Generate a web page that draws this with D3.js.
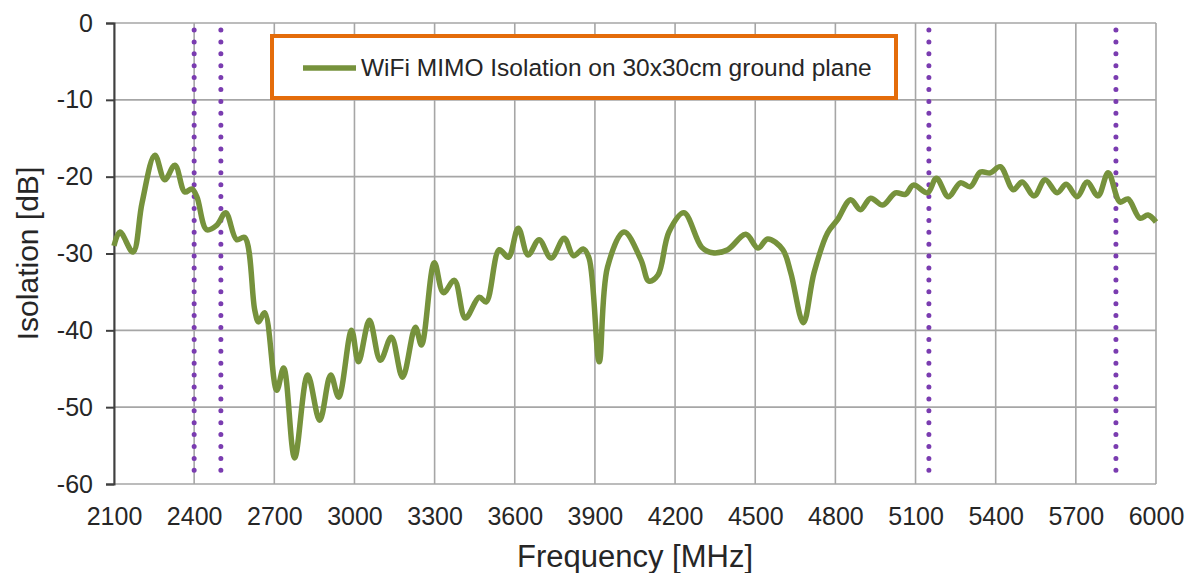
<!DOCTYPE html>
<html>
<head>
<meta charset="utf-8">
<script src="https://cdn.jsdelivr.net/npm/d3@7"></script>
<style>
  body { margin: 0; background: #fff; }
  text { font-family: "Liberation Sans", Arial, sans-serif; fill: #262626; }
</style>
</head>
<body>
<div id="chart"></div>
<script>
// measured isolation curve (MHz, dB)
var freq = [2100, 2122, 2171, 2205, 2253, 2290, 2328, 2365, 2391, 2410, 2447, 2485, 2518, 2559, 2589, 2627, 2641, 2664,
  2709, 2735, 2776, 2825, 2870, 2911, 2941, 2989, 3015, 3056, 3097, 3138, 3180, 3228, 3251, 3299, 3333, 3374, 3415,
  3467, 3493, 3542, 3576, 3613, 3650, 3691, 3736, 3785, 3820, 3856, 3878, 3916, 3947, 4009, 4072, 4102, 4136, 4177,
  4233, 4300, 4341, 4397, 4465, 4510, 4547, 4603, 4633, 4680, 4720, 4771, 4808, 4857, 4894, 4932, 4977, 5025, 5062,
  5092, 5145, 5178, 5223, 5268, 5305, 5343, 5380, 5417, 5466, 5499, 5544, 5585, 5630, 5664, 5705, 5742, 5783, 5821,
  5865, 5895, 5940, 5970, 6000];
var isolation = [-29, -27.2, -29.8, -23.4, -17.2, -20.4, -18.5, -22.0, -21.6, -22.6, -26.9, -26.3, -24.7, -28.2, -27.9, -37.4, -38.9, -37.7,
  -47.8, -44.9, -56.6, -45.8, -51.7, -45.8, -48.7, -40.0, -44.1, -38.7, -43.9, -40.9, -46.1, -39.6, -41.9, -31.2, -35.1, -33.5, -38.4,
  -35.7, -36.3, -29.5, -30.5, -26.7, -30.2, -28.2, -30.6, -28.0, -30.3, -29.4, -30.6, -44.1, -31.8, -27.2, -30.8, -33.6, -32.8, -27.2,
  -24.7, -29.2, -29.9, -29.5, -27.5, -29.3, -28.1, -29.5, -32.5, -39.0, -32.5, -27.3, -25.6, -23.0, -24.3, -22.8, -23.7, -22.1, -22.3,
  -21.1, -22.1, -20.2, -22.6, -20.8, -21.3, -19.4, -19.5, -18.7, -21.7, -20.7, -22.5, -20.4, -22.1, -21.0, -22.6, -20.7, -22.5, -19.5,
  -23.3, -22.9, -25.4, -25.0, -25.9];

var xTicks = [2100, 2400, 2700, 3000, 3300, 3600, 3900, 4200, 4500, 4800, 5100, 5400, 5700, 6000];
var yTicks = [0, -10, -20, -30, -40, -50, -60];
var bandEdges = [2400, 2500, 5150, 5850];
var seriesName = "WiFi MIMO Isolation on 30x30cm ground plane";

var W = 1192, H = 573;
var margin = {top: 23, right: 36, bottom: 89, left: 114};
var width = W - margin.left - margin.right;
var height = H - margin.top - margin.bottom;

var svg = d3.select("#chart").append("svg")
    .attr("width", W).attr("height", H)
  .append("g")
    .attr("transform", "translate(" + margin.left + "," + margin.top + ")");

var x = d3.scaleLinear().domain([2100, 6000]).range([0, width]);
var y = d3.scaleLinear().domain([-60, 0]).range([height, 0]);

// grid
svg.selectAll(".vgrid").data(xTicks).enter().append("line")
    .attr("x1", d => x(d)).attr("x2", d => x(d))
    .attr("y1", 0).attr("y2", height)
    .attr("stroke", "#a6a6a6").attr("stroke-width", 1.6);
svg.selectAll(".hgrid").data(yTicks).enter().append("line")
    .attr("x1", 0).attr("x2", width)
    .attr("y1", d => y(d)).attr("y2", d => y(d))
    .attr("stroke", "#a6a6a6").attr("stroke-width", 1.6);

// left axis (plain hyphen for minus, like the original)
var yAxis = d3.axisLeft(y).tickValues(yTicks).tickSize(8).tickPadding(13)
    .tickFormat(d => String(d));
var gy = svg.append("g").call(yAxis);
gy.select(".domain").attr("stroke", "#404040").attr("stroke-width", 2);
gy.selectAll(".tick line").attr("stroke", "#404040").attr("stroke-width", 2);
gy.selectAll(".tick text").style("font-size", "25px").attr("fill", "#262626")
    .style("font-family", "Liberation Sans, Arial, sans-serif");

// bottom labels
var xAxis = d3.axisBottom(x).tickValues(xTicks).tickSize(0).tickPadding(23).tickFormat(d => String(d));
var gx = svg.append("g").attr("transform", "translate(0," + height + ")").call(xAxis);
gx.select(".domain").remove();
gx.selectAll(".tick text").style("font-size", "25px").attr("fill", "#262626")
    .style("font-family", "Liberation Sans, Arial, sans-serif");

// band edge dotted lines
svg.selectAll(".band").data(bandEdges).enter().append("line")
    .attr("x1", d => x(d)).attr("x2", d => x(d))
    .attr("y1", 7).attr("y2", height - 8)
    .attr("stroke", "#7a3cb0").attr("stroke-width", 5)
    .attr("stroke-linecap", "round").attr("stroke-dasharray", "0,11.9");

// curve
var line = d3.line()
    .x((d, i) => x(freq[i]))
    .y(d => y(d))
    .curve(d3.curveCatmullRom.alpha(0.5));
svg.append("path").datum(isolation)
    .attr("d", line)
    .attr("fill", "none")
    .attr("stroke", "#76923c")
    .attr("stroke-width", 5.5)
    .attr("stroke-linejoin", "round");

// legend
var leg = svg.append("g");
leg.append("rect")
    .attr("x", 272 - margin.left).attr("y", 36 - margin.top)
    .attr("width", 624).attr("height", 62)
    .attr("fill", "#fff").attr("stroke", "#e46c0a").attr("stroke-width", 4);
leg.append("line")
    .attr("x1", 303 - margin.left).attr("x2", 356 - margin.left)
    .attr("y1", 68 - margin.top).attr("y2", 68 - margin.top)
    .attr("stroke", "#76923c").attr("stroke-width", 5.5);
leg.append("text")
    .attr("x", 361 - margin.left).attr("y", 76 - margin.top)
    .style("font-size", "24.5px")
    .text(seriesName);

// axis titles
svg.append("text")
    .attr("x", width / 2).attr("y", height + 83)
    .attr("text-anchor", "middle")
    .style("font-size", "31px")
    .text("Frequency [MHz]");
svg.append("text")
    .attr("transform", "translate(" + (38 - margin.left) + "," + (height / 2) + ") rotate(-90)")
    .attr("text-anchor", "middle")
    .style("font-size", "30px")
    .text("Isolation [dB]");
</script>
</body>
</html>
